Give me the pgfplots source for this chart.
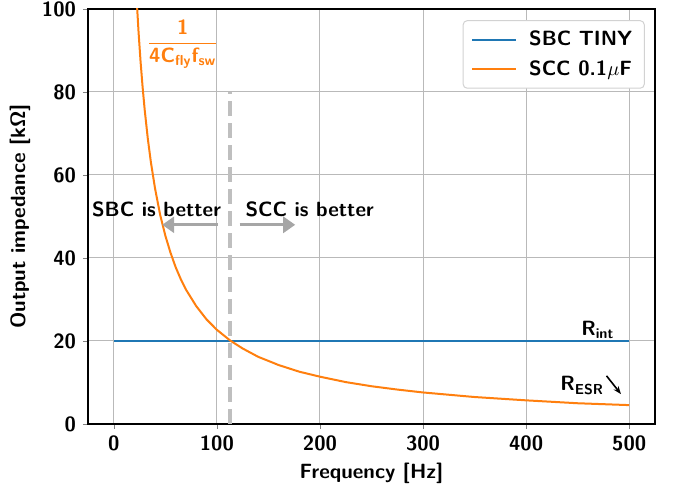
\documentclass[border=0pt]{standalone}
\usepackage{fontspec}
\usepackage{amsmath}
\usepackage{pgfplots}
\pgfplotsset{compat=1.18}
\usetikzlibrary{arrows.meta}
\definecolor{mblue}{HTML}{1F77B4}
\definecolor{morange}{HTML}{FF7F0E}
\newcommand{\lblfont}{\fontsize{10.3}{12.4}\selectfont\sffamily\bfseries}

\begin{document}
\begin{tikzpicture}[font=\lblfont]
\useasboundingbox (-44pt,-31.5pt) rectangle (293.5pt,212pt);
\begin{axis}[
  at={(0,0)}, anchor=south west,
  scale only axis, width=283.5pt, height=207.5pt,
  xmin=-25, xmax=525, ymin=0, ymax=100,
  xtick={0,100,...,500}, ytick={0,20,...,100},
  tick align=outside, tick pos=left,
  major tick length=2.5pt,
  grid=major, grid style={gray!55, line width=0.5pt},
  axis line style={line width=0.6pt},
  /pgf/number format/assume math mode=true,
  ticklabel style={font=\lblfont},
  label style={font=\lblfont},
  xlabel={Frequency [Hz]}, ylabel={Output impedance [kΩ]},
  xlabel style={yshift=1pt},
  ylabel style={yshift=-1pt},
  legend style={at={(0.982,0.973)}, anchor=north east, rounded corners=2pt,
    draw=gray!35, line width=0.5pt, font=\lblfont, inner xsep=4pt, inner ysep=3pt,
    row sep=2pt},
  legend cell align=left,
  legend image code/.code={\draw[#1] (0pt,0pt) -- (22pt,0pt);},
]
\addplot[mblue, line width=1pt] coordinates {(0,20) (500,20)};
\addlegendentry{\hspace{4pt}SBC TINY}
\addplot[morange, line width=1pt] coordinates {
(18,126.1) (20,113.5) (22,103.2) (24,94.6) (26,87.3) (28,81.1) (30,75.7)
(33,68.8) (36,63.1) (40,56.8) (45,50.4) (50,45.4) (55,41.3) (60,37.8)
(65,34.9) (70,32.4) (80,28.4) (90,25.2) (100,22.7) (113,20.1) (125,18.2)
(140,16.2) (160,14.2) (180,12.6) (200,11.4) (225,10.1) (250,9.1)
(275,8.3) (300,7.6) (350,6.5) (400,5.7) (450,5.0) (500,4.55)};
\addlegendentry{\hspace{4pt}SCC 0.1$\mu$F}

\draw[gray!50, line width=2pt, dash pattern=on 7.5pt off 3.5pt]
  (axis cs:113,0) -- (axis cs:113,80);
\draw[gray!70, line width=1.5pt, -{Triangle[length=6pt,width=8pt]}]
  (axis cs:101,48) -- (axis cs:47,48);
\draw[gray!70, line width=1.5pt, -{Triangle[length=6pt,width=8pt]}]
  (axis cs:122,48) -- (axis cs:176,48);
\node[anchor=base] at (axis cs:41.5,49.9) {SBC is better};
\node[anchor=base] at (axis cs:190,49.9) {SCC is better};

\node[morange] at (axis cs:67,91.5)
  {$\dfrac{\text{1}}{\text{4C}_{\text{fly}}\text{f}_{\text{sw}}}$};
\node[anchor=base east, inner sep=0pt] at (axis cs:486,21.4) {R$_{\text{int}}$};
\node[anchor=base east, inner sep=0pt] at (axis cs:476,8.0) {R$_{\text{ESR}}$};
\draw[-{Stealth[length=4pt]}, line width=0.8pt]
  (axis cs:478,11.6) -- (axis cs:492,7.2);
\end{axis}
\end{tikzpicture}
\end{document}
